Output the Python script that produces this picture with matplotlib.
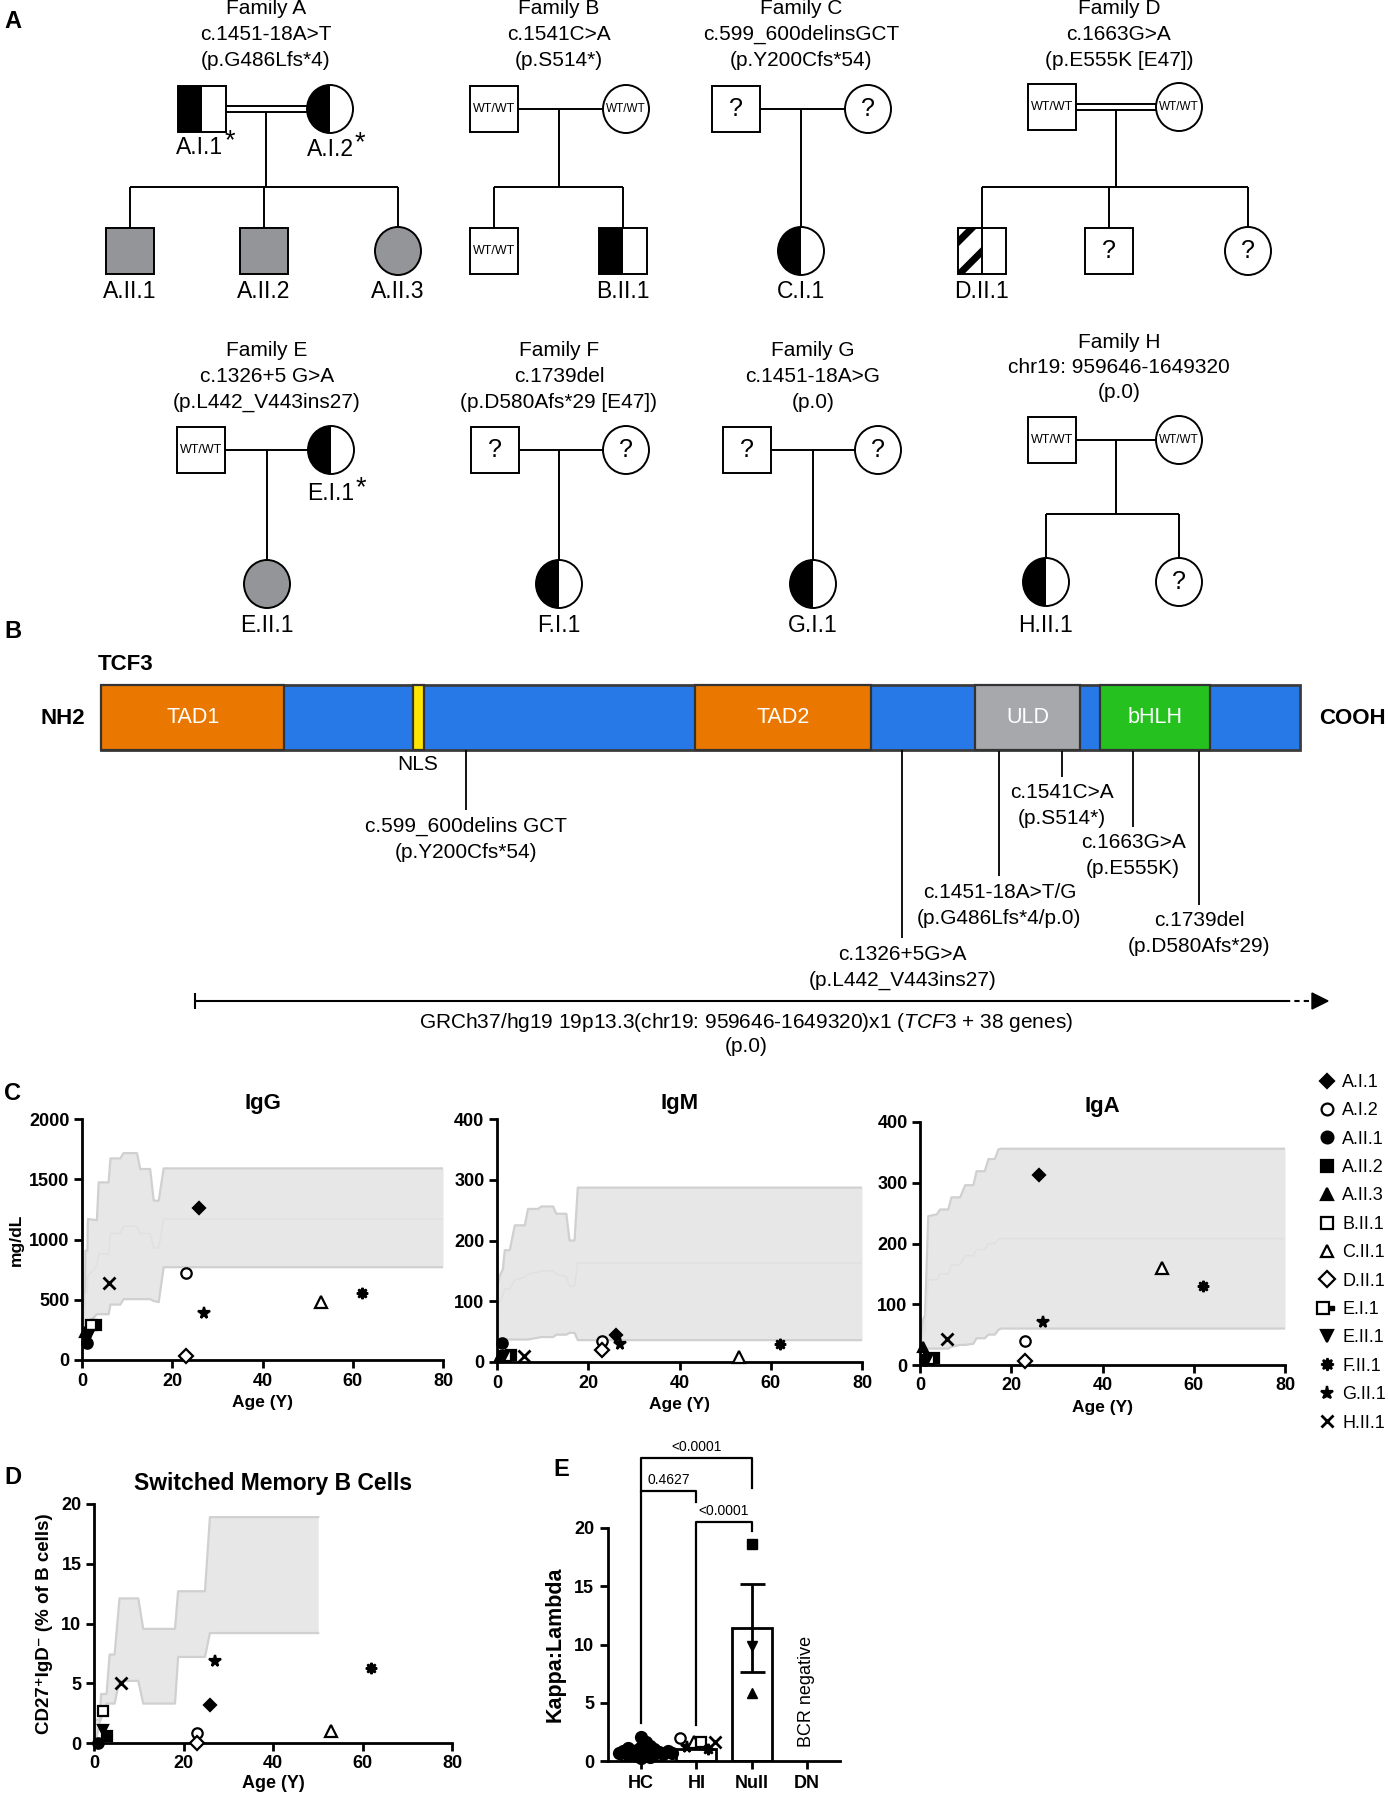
import numpy as np
import matplotlib
matplotlib.use('Agg')
import matplotlib.pyplot as plt
from matplotlib.patches import Rectangle, Ellipse, Polygon
from matplotlib.lines import Line2D
from matplotlib.legend_handler import HandlerTuple
from matplotlib import font_manager

plt.rcParams['font.family'] = ['Liberation Sans', 'DejaVu Sans']
plt.rcParams['hatch.linewidth'] = 5.0
plt.rcParams['mathtext.fontset'] = 'custom'
plt.rcParams['mathtext.rm'] = 'Liberation Sans'
plt.rcParams['mathtext.it'] = 'Liberation Sans:italic'

_names = {f.name for f in font_manager.fontManager.ttflist}
NARROW = 'Liberation Sans Narrow' if 'Liberation Sans Narrow' in _names else 'Liberation Sans'
PED_TITLE_FS = 18.5 if NARROW == 'Liberation Sans Narrow' else 15
PED_LABEL_FS = 19.5 if NARROW == 'Liberation Sans Narrow' else 16.5

nan = np.nan
# ---------------------------------------------------------------- data
PATIENTS = ['A.I.1', 'A.I.2', 'A.II.1', 'A.II.2', 'A.II.3', 'B.II.1', 'C.II.1',
            'D.II.1', 'E.I.1', 'E.II.1', 'F.II.1', 'G.II.1', 'H.II.1']
AGE = [26, 23, 1, 3, 0.6, 2, 53, 23, nan, 1.6, 62, 27, 6]
IGG = [1260, 720, 140, 290, 230, 290, 480, 30, nan, 210, 560, 390, 640]
IGM = [45, 35, 32, 12, 10, 10, 8, 20, nan, 10, 30, 30, 10]
IGA = [312, 40, 8, 12, 30, 10, 160, 6, nan, 8, 130, 70, 43]
SMB_AGE = [26, 23, 1, 3, nan, 2, 53, 23, nan, 2, 62, 27, 6]
SMB = [3.2, 0.8, 0.0, 0.6, nan, 2.7, 1.0, 0.0, nan, 1.1, 6.3, 6.9, 5.0]

# reference ranges (age in years)
IGG_REF_AGE = [0, 0.7, 0.75, 1.2, 1.3, 3.3, 3.7, 5.9, 6.3, 8.5, 9.2, 12.2, 12.9, 15.1, 15.9, 17, 18.1, 80]
IGG_REF_HI = [330, 600, 907, 907, 1170, 1160, 1474, 1474, 1673, 1673, 1717, 1717, 1585, 1585, 1322, 1322, 1590, 1590]
IGG_REF_MID = [230, 420, 550, 560, 700, 780, 880, 880, 1050, 1050, 1110, 1110, 1050, 1050, 930, 930, 1170, 1170]
IGG_REF_LO = [120, 250, 280, 290, 300, 380, 380, 380, 460, 460, 505, 505, 505, 505, 490, 480, 770, 770]

IGM_REF_AGE = [0, 0.6, 1.3, 1.7, 2.8, 3.9, 6.1, 6.8, 9, 9.7, 12.3, 13, 15.2, 15.9, 17, 17.7, 80]
IGM_REF_HI = [122, 142, 153, 184, 184, 225, 225, 252, 252, 256, 256, 244, 244, 200, 200, 287, 287]
IGM_REF_MID = [90, 100, 110, 120, 120, 135, 140, 145, 148, 150, 150, 145, 140, 125, 125, 163, 163]
IGM_REF_LO = [30, 37, 37, 37, 37, 37, 37, 37, 40, 41, 41, 45, 45, 48, 48, 36, 36]

IGA_REF_AGE = [0, 0.7, 1.1, 1.8, 3.7, 4.4, 6.2, 6.9, 8.8, 9.9, 11.7, 12.4, 14.2, 15.0, 16.4, 17.2, 17.9, 80]
IGA_REF_HI = [32, 76, 81, 245, 248, 256, 256, 276, 276, 296, 296, 319, 319, 339, 339, 355, 356, 356]
IGA_REF_MID = [32, 50, 55, 140, 140, 150, 150, 165, 165, 180, 180, 190, 190, 200, 200, 207, 208, 208]
IGA_REF_LO = [32, 28, 27, 27, 27, 27, 27, 30, 33, 33, 35, 44, 44, 50, 50, 58, 60, 60]

SMB_REF_AGE = [0, 0.5, 1.3, 1.6, 2.0, 2.8, 3.5, 4.6, 5.7, 9.9, 11.0, 18.1, 18.8, 24.8, 25.9, 50.1]
SMB_REF_HI = [1.8, 1.95, 1.95, 4.1, 4.1, 4.1, 7.4, 7.4, 12.1, 12.1, 9.55, 9.55, 12.7, 12.7, 18.9, 18.9]
SMB_REF_LO = [0.0, 0.3, 1.8, 2.0, 2.6, 3.3, 3.3, 3.3, 5.2, 5.2, 3.3, 3.3, 7.2, 7.2, 9.2, 9.2]

# panel E
KL_GROUPS = ['HC', 'HI', 'Null', 'DN']
KL_BAR = [0.85, 1.05, 11.43]
KL_NULL_SEM = 3.77
KL_HC = [0.25, 0.35, 0.45, 0.5, 0.55, 0.6, 0.6, 0.65, 0.7, 0.7, 0.75, 0.8, 0.8,
         0.85, 0.9, 0.95, 1.0, 1.05, 1.1, 1.2, 1.3, 1.6, 2.1]
KL_HI_PATIENTS = ['A.I.2', 'G.II.1', 'C.II.1', 'B.II.1', 'F.II.1', 'H.II.1']
KL_HI = [2.0, 1.2, 1.6, 1.6, 1.0, 1.6]
KL_NULL_PATIENTS = ['A.II.2', 'E.II.1', 'A.II.3']
KL_NULL = [18.6, 9.9, 5.8]
KL_SIG = [(0, 1, '0.4627'), (1, 2, '<0.0001'), (0, 2, '<0.0001')]

# protein (aa positions)
PROT_LEN = 654
DOMAINS = ['TAD1', 'NLS', 'TAD2', 'ULD', 'bHLH']
DOM_START = [0, 170, 324, 477, 545]
DOM_END = [100, 176, 420, 534, 605]
DOM_COLORS = ['#ea7800', '#ffe500', '#ea7800', '#a7a8ab', '#25c21f']
MUT_POS = [199, 437, 490, 524, 563, 599]
MUT_NAMES = ['c.599_600delins GCT', 'c.1326+5G>A', 'c.1451-18A>T/G', 'c.1541C>A', 'c.1663G>A', 'c.1739del']
MUT_PROT = ['(p.Y200Cfs*54)', '(p.L442_V443ins27)', '(p.G486Lfs*4/p.0)', '(p.S514*)', '(p.E555K)', '(p.D580Afs*29)']
MUT_DEPTH = [60, 188, 126, 27, 77, 155]

# ---------------------------------------------------------------- figure
W, H = 1388, 1800
fig = plt.figure(figsize=(W / 100, H / 100), dpi=100)
ax0 = fig.add_axes([0, 0, 1, 1])
ax0.set_xlim(0, W)
ax0.set_ylim(H, 0)
ax0.axis('off')


def fbox(x0, y0, x1, y1):
    return [x0 / W, 1 - y1 / H, (x1 - x0) / W, (y1 - y0) / H]


LW = 1.4
GREY = '#939598'


def line(xs, ys, lw=LW, **kw):
    ax0.plot(xs, ys, color='black', lw=lw, solid_capstyle='butt', **kw)


def square(cx, cy, kind='open', text=None):
    w, h = 48, 46
    fc = GREY if kind == 'grey' else 'white'
    ax0.add_patch(Rectangle((cx - w / 2, cy - h / 2), w, h, fc=fc, ec='none', zorder=3))
    if kind == 'half':
        ax0.add_patch(Rectangle((cx - w / 2, cy - h / 2), w / 2, h, fc='black', ec='none', zorder=4))
    if kind == 'hatch':
        ax0.add_patch(Rectangle((cx - w / 2, cy - h / 2), w / 2, h, fc='white', ec='black', lw=0,
                                hatch='/', zorder=4))
        line([cx, cx], [cy - h / 2, cy + h / 2], lw=LW, zorder=5)
    ax0.add_patch(Rectangle((cx - w / 2, cy - h / 2), w, h, fc='none', ec='black', lw=LW, zorder=6))
    if text:
        ax0.text(cx, cy, text, ha='center', va='center', family=NARROW,
                 fontsize=9 if text != '?' else 18, zorder=7)


def circle(cx, cy, kind='open', text=None):
    w, h = 46, 48
    fc = GREY if kind == 'grey' else 'white'
    e = Ellipse((cx, cy), w, h, fc=fc, ec='none', zorder=3)
    ax0.add_patch(e)
    if kind == 'half':
        r = Rectangle((cx - 30, cy - 30), 30, 60, fc='black', ec='none', zorder=4)
        ax0.add_patch(r)
        r.set_clip_path(e)
    ax0.add_patch(Ellipse((cx, cy), w, h, fc='none', ec='black', lw=LW, zorder=6))
    if text:
        ax0.text(cx, cy, text, ha='center', va='center', family=NARROW,
                 fontsize=8.5 if text != '?' else 18, zorder=7)


def title(cx, y0, lines):
    for i, s in enumerate(lines):
        ax0.text(cx, y0 + i * 25.5, s, ha='center', va='center', fontsize=PED_TITLE_FS, family=NARROW)


def label(cx, cy, s, star=False):
    t = ax0.text(cx, cy, s, ha='center', va='center', fontsize=PED_LABEL_FS, family=NARROW)
    if star:
        ax0.annotate('*', xy=(1, 1), xycoords=t, xytext=(0.5, 5), textcoords='offset points',
                     ha='left', va='top', fontsize=PED_LABEL_FS + 3, family=NARROW)


# ---------------- panel A: pedigrees
ax0.text(4, 22, 'A', fontsize=17, fontweight='bold', va='center')
ax0.text(4, 632, 'B', fontsize=17, fontweight='bold', va='center')
ax0.text(4, 1093, 'C', fontsize=17, fontweight='bold', va='center')
ax0.text(4, 1478, 'D', fontsize=17, fontweight='bold', va='center')
ax0.text(553, 1469, 'E', fontsize=17, fontweight='bold', va='center')

P1, S1, C1, L1 = 109, 187, 251, 292
# Family A
title(266, 9, ['Family A', 'c.1451-18A>T', '(p.G486Lfs*4)'])
square(202, P1, 'half'); circle(330, P1, 'half')
line([226, 307], [P1 - 3, P1 - 3]); line([226, 307], [P1 + 3, P1 + 3])
line([266, 266], [P1 + 3, S1]); line([130, 398], [S1, S1])
for x in (130, 264, 398):
    line([x, x], [S1, C1 - 23])
square(130, C1, 'grey'); square(264, C1, 'grey'); circle(398, C1, 'grey')
label(200, 147, 'A.I.1', True); label(330, 149, 'A.I.2', True)
label(130, L1, 'A.II.1'); label(264, L1, 'A.II.2'); label(398, L1, 'A.II.3')
# Family B
title(559, 9, ['Family B', 'c.1541C>A', '(p.S514*)'])
square(494, P1, 'open', 'WT/WT'); circle(626, P1, 'open', 'WT/WT')
line([518, 603], [P1, P1]); line([559, 559], [P1, S1]); line([494, 623], [S1, S1])
for x in (494, 623):
    line([x, x], [S1, C1 - 23])
square(494, C1, 'open', 'WT/WT'); square(623, C1, 'half')
label(623, L1, 'B.II.1')
# Family C
title(801, 9, ['Family C', 'c.599_600delinsGCT', '(p.Y200Cfs*54)'])
square(736, P1, 'open', '?'); circle(868, P1, 'open', '?')
line([760, 845], [P1, P1]); line([801, 801], [P1, C1 - 24])
circle(801, C1, 'half'); label(801, L1, 'C.I.1')
# Family D
title(1119, 9, ['Family D', 'c.1663G>A', '(p.E555K [E47])'])
square(1052, P1 - 2, 'open', 'WT/WT'); circle(1179, P1 - 2, 'open', 'WT/WT')
line([1076, 1156], [P1 - 5, P1 - 5]); line([1076, 1156], [P1 + 1, P1 + 1])
line([1116, 1116], [P1 + 1, S1]); line([982, 1248], [S1, S1])
for x in (982, 1109, 1248):
    line([x, x], [S1, C1 - 23])
square(982, C1, 'hatch'); square(1109, C1, 'open', '?'); circle(1248, C1, 'open', '?')
label(982, L1, 'D.II.1')

P2, C2, L2 = 450, 584, 626
# Family E
title(267, 351, ['Family E', 'c.1326+5 G>A', '(p.L442_V443ins27)'])
square(201, P2, 'open', 'WT/WT'); circle(331, P2, 'half')
line([225, 308], [P2, P2]); line([267, 267], [P2, C2 - 24])
circle(267, C2, 'grey')
label(331, 494, 'E.I.1', True); label(267, L2, 'E.II.1')
# Family F
title(559, 351, ['Family F', 'c.1739del', '(p.D580Afs*29 [E47])'])
square(495, P2, 'open', '?'); circle(626, P2, 'open', '?')
line([519, 603], [P2, P2]); line([559, 559], [P2, C2 - 24])
circle(559, C2, 'half'); label(559, L2, 'F.I.1')
# Family G
title(813, 351, ['Family G', 'c.1451-18A>G', '(p.0)'])
square(747, P2, 'open', '?'); circle(878, P2, 'open', '?')
line([771, 855], [P2, P2]); line([813, 813], [P2, C2 - 24])
circle(813, C2, 'half'); label(813, L2, 'G.I.1')
# Family H
title(1119, 342, ['Family H', 'chr19: 959646-1649320', '(p.0)'])
PH, SH, CH = 440, 514, 582
square(1052, PH, 'open', 'WT/WT'); circle(1179, PH, 'open', 'WT/WT')
line([1076, 1156], [PH, PH]); line([1116, 1116], [PH, SH]); line([1046, 1179], [SH, SH])
for x in (1046, 1179):
    line([x, x], [SH, CH - 24])
circle(1046, CH, 'half'); circle(1179, CH, 'open', '?')
label(1046, L2, 'H.II.1')

# ---------------- panel B: protein
PX0, PX1, PY0, PY1 = 101, 1300, 685, 750


def aa2x(a):
    return PX0 + (PX1 - PX0) * a / PROT_LEN


BLUE = '#2779e8'
ax0.add_patch(Rectangle((PX0, PY0), PX1 - PX0, PY1 - PY0, fc=BLUE, ec='#3c3c3c', lw=2, zorder=2))
for name, s, e, c in zip(DOMAINS, DOM_START, DOM_END, DOM_COLORS):
    ax0.add_patch(Rectangle((aa2x(s), PY0), aa2x(e) - aa2x(s), PY1 - PY0, fc=c, ec='#333333',
                            lw=1.6, zorder=3))
    if name == 'NLS':
        ax0.text((aa2x(s) + aa2x(e)) / 2, 764, name, ha='center', va='center', fontsize=15)
    else:
        ax0.text((aa2x(s) + aa2x(e)) / 2, (PY0 + PY1) / 2, name, ha='center', va='center',
                 fontsize=15.5, color='white')
ax0.text(126, 665, 'TCF3', ha='center', va='center', fontsize=16, fontweight='bold')
ax0.text(63, 718, 'NH2', ha='center', va='center', fontsize=16, fontweight='bold')
ax0.text(1352, 718, 'COOH', ha='center', va='center', fontsize=16, fontweight='bold')
for pos, nm, pr, d in zip(MUT_POS, MUT_NAMES, MUT_PROT, MUT_DEPTH):
    x = aa2x(pos)
    line([x, x], [PY1, PY1 + d], lw=1.3)
    ax0.text(x, PY1 + d + 16, nm, ha='center', va='center', fontsize=15)
    ax0.text(x, PY1 + d + 42, pr, ha='center', va='center', fontsize=15)
# chromosomal deletion arrow
line([195, 1285], [1001, 1001], lw=1.5)
line([195, 195], [993, 1009], lw=1.5)
ax0.plot([1285, 1312], [1001, 1001], color='black', lw=1.5, ls=(0, (2.5, 2)))
ax0.add_patch(Polygon([[1312, 993], [1328, 1001], [1312, 1009]], closed=True, fc='black', ec='black'))
ax0.text(746, 1022, r'GRCh37/hg19 19p13.3(chr19: 959646-1649320)x1 ($\it{TCF3}$ + 38 genes)',
         ha='center', va='center', fontsize=15)
ax0.text(746, 1047, '(p.0)', ha='center', va='center', fontsize=15)

# ---------------- panel C / D scatter
MK = ['D', 'o', 'o', 's', '^', 's', '^', 'D', 's', 'v', (8, 1, 0), '*', 'x']
FILLED = [True, False, True, True, True, False, False, False, False, True, True, True, True]
MS = [6, 7.5, 7.5, 7, 7.5, 7.5, 8, 7, 7, 7.5, 8, 8.5, 8]


def style(ax, yticks, xlim=(0, 80), xticks=(0, 20, 40, 60, 80)):
    for s in ('top', 'right'):
        ax.spines[s].set_visible(False)
    for s in ('left', 'bottom'):
        ax.spines[s].set_linewidth(2)
    ax.set_xlim(*xlim)
    ax.set_xticks(xticks)
    ax.set_yticks(yticks)
    ax.set_ylim(yticks[0], yticks[-1])
    ax.tick_params(width=2, length=6, labelsize=13, pad=3)
    for t in ax.get_xticklabels() + ax.get_yticklabels():
        t.set_fontweight('bold')
    ax.patch.set_alpha(0)


def band(ax, xs, lo, hi, mid=None):
    ax.fill_between(xs, lo, hi, color='#e7e7e7', lw=0, zorder=1)
    ax.plot(xs, hi, color='#d0d0d0', lw=1.6, zorder=2)
    ax.plot(xs, lo, color='#d0d0d0', lw=1.6, zorder=2)
    if mid is not None:
        ax.plot(xs, mid, color='#e0e0e0', lw=1.0, zorder=2)


def points(ax, xs, ys):
    for i in range(len(PATIENTS)):
        if np.isnan(xs[i]) or np.isnan(ys[i]):
            continue
        ax.plot(xs[i], ys[i], marker=MK[i], ms=MS[i], ls='none',
                mfc='black' if FILLED[i] else 'white', mec='black',
                mew=2 if MK[i] == 'x' else 1.6, zorder=5, clip_on=False)


axG = fig.add_axes(fbox(82, 1119, 443, 1360))
band(axG, IGG_REF_AGE, IGG_REF_LO, IGG_REF_HI, IGG_REF_MID)
points(axG, AGE, IGG)
style(axG, [0, 500, 1000, 1500, 2000])
axG.set_title('IgG', fontsize=16, fontweight='bold', pad=7)
axG.set_xlabel('Age (Y)', fontsize=12.5, fontweight='bold', labelpad=4)
axG.set_ylabel('mg/dL', fontsize=12.5, fontweight='bold', labelpad=4)

axM = fig.add_axes(fbox(497, 1119, 862, 1362))
band(axM, IGM_REF_AGE, IGM_REF_LO, IGM_REF_HI, IGM_REF_MID)
points(axM, AGE, IGM)
style(axM, [0, 100, 200, 300, 400])
axM.set_title('IgM', fontsize=16, fontweight='bold', pad=7)
axM.set_xlabel('Age (Y)', fontsize=12.5, fontweight='bold', labelpad=4)

axA = fig.add_axes(fbox(920, 1122, 1285, 1365))
band(axA, IGA_REF_AGE, IGA_REF_LO, IGA_REF_HI, IGA_REF_MID)
points(axA, AGE, IGA)
style(axA, [0, 100, 200, 300, 400])
axA.set_title('IgA', fontsize=16, fontweight='bold', pad=7)
axA.set_xlabel('Age (Y)', fontsize=12.5, fontweight='bold', labelpad=4)

# legend
handles = []
for i, p in enumerate(PATIENTS):
    h = Line2D([], [], marker=MK[i], ms=MS[i] + 1, ls='none',
               mfc='black' if FILLED[i] else 'white', mec='black',
               mew=2 if MK[i] == 'x' else 1.6)
    if p == 'E.I.1':
        h = (h, Line2D([], [], marker='s', ms=3.5, ls='none', mfc='black', mec='black'))
    handles.append(h)
fig.legend(handles, PATIENTS, loc='upper left', bbox_to_anchor=(1318 / W, 1 - 1074 / H),
           frameon=False, fontsize=13, handletextpad=0.35, labelspacing=0.63,
           handlelength=1.0, borderaxespad=0, borderpad=0,
           handler_map={tuple: HandlerTuple(ndivide=None)})

axD = fig.add_axes(fbox(94, 1504, 452, 1743))
band(axD, SMB_REF_AGE, SMB_REF_LO, SMB_REF_HI)
points(axD, SMB_AGE, SMB)
style(axD, [0, 5, 10, 15, 20])
axD.set_title('Switched Memory B Cells', fontsize=16.5, fontweight='bold', pad=10)
axD.set_xlabel('Age (Y)', fontsize=13, fontweight='bold', labelpad=2)
axD.set_ylabel('CD27\u207aIgD\u207b (% of B cells)', fontsize=13.5, fontweight='bold', labelpad=6)

# ---------------- panel E
axE = fig.add_axes(fbox(608, 1528, 840, 1761))
xcat = np.arange(len(KL_GROUPS))
axE.bar(xcat[:3], KL_BAR, width=0.72, color='white', edgecolor='black', lw=2, zorder=2)
axE.errorbar([xcat[2]], [KL_BAR[2]], yerr=[KL_NULL_SEM], fmt='none', ecolor='black',
             elinewidth=2, capsize=9, capthick=2, zorder=3)


def swarm(vals, dx, dy, fac=0.8):
    placed, offs = [], np.zeros(len(vals))
    for i in np.argsort(vals):
        y = vals[i]
        cands = [0.0]
        for k in range(1, 60):
            cands += [k * dx * 0.5, -k * dx * 0.5]
        for c in cands:
            if all(((c - px) / dx) ** 2 + ((y - py) / dy) ** 2 >= fac ** 2 for px, py in placed):
                break
        placed.append((c, y))
        offs[i] = c
    return offs


hc_off = swarm(np.array(KL_HC), 0.16, 0.78, fac=0.55)
axE.plot(xcat[0] + hc_off, KL_HC, 'o', ms=8.5, color='black', ls='none', zorder=4, clip_on=False)
idx = {p: i for i, p in enumerate(PATIENTS)}
hi_off = np.linspace(-0.3, 0.33, len(KL_HI))
for p, v, o in zip(KL_HI_PATIENTS, KL_HI, hi_off):
    i = idx[p]
    axE.plot(xcat[1] + o, v, marker=MK[i], ms=MS[i], ls='none',
             mfc='black' if FILLED[i] else 'white', mec='black',
             mew=2 if MK[i] == 'x' else 1.6, zorder=4)
for p, v in zip(KL_NULL_PATIENTS, KL_NULL):
    i = idx[p]
    axE.plot(xcat[2], v, marker=MK[i], ms=MS[i], ls='none', mfc='black', mec='black', zorder=4)
axE.text(xcat[3], 1.2, 'BCR negative', rotation=90, ha='center', va='bottom', fontsize=13)

for s in ('top', 'right'):
    axE.spines[s].set_visible(False)
for s in ('left', 'bottom'):
    axE.spines[s].set_linewidth(2)
axE.set_xlim(-0.6, 3.6)
axE.set_ylim(0, 20)
axE.set_yticks([0, 5, 10, 15, 20])
axE.set_xticks(xcat)
axE.set_xticklabels(KL_GROUPS)
axE.tick_params(width=2, length=6, labelsize=13, pad=4)
for t in axE.get_xticklabels() + axE.get_yticklabels():
    t.set_fontweight('bold')
axE.set_ylabel('Kappa:Lambda', fontsize=15.5, fontweight='bold', labelpad=6)
axE.patch.set_alpha(0)

# significance brackets
BR_TOP = [23.2, 20.5, 26.0]
BR_LEFT = [3.3, 3.1, 23.2]
BR_RIGHT = [22.2, 19.7, 23.4]
for (a, b, s), top, l, r in zip(KL_SIG, BR_TOP, BR_LEFT, BR_RIGHT):
    axE.plot([a, a, b, b], [l, top, top, r], color='black', lw=1.6, clip_on=False, zorder=3)
    axE.text((a + b) / 2, top + 0.35, s, ha='center', va='bottom', fontsize=10, clip_on=False)

fig.savefig('out.png', dpi=100)
